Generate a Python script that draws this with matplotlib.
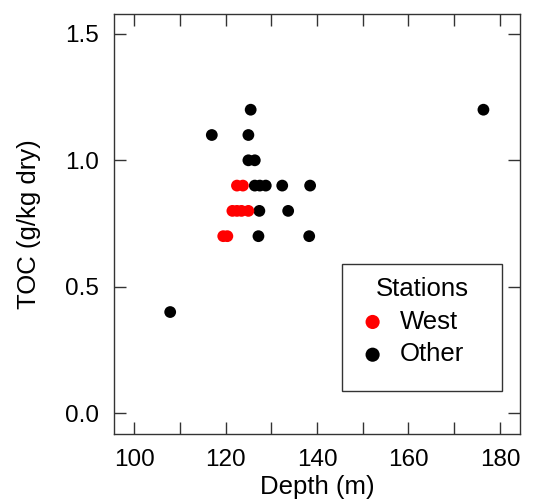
import matplotlib.pyplot as plt
from matplotlib.patches import Rectangle

plt.rcParams['font.family'] = ['Liberation Sans', 'DejaVu Sans']

# depth (m) and TOC (g/kg dry)
west_depth = [119.5, 120.4, 121.5, 122.5, 123.5, 125.0, 122.5, 123.8]
west_toc = [0.7, 0.7, 0.8, 0.8, 0.8, 0.8, 0.9, 0.9]

other_depth = [107.9, 117.0, 125.0, 125.5, 125.0, 126.4, 126.4, 127.5, 128.8,
               132.4, 138.5, 127.4, 133.7, 127.2, 138.3, 176.4]
other_toc = [0.4, 1.1, 1.1, 1.2, 1.0, 1.0, 0.9, 0.9, 0.9,
             0.9, 0.9, 0.8, 0.8, 0.7, 0.7, 1.2]

xticks = [100, 120, 140, 160, 180]
yticks = [0.0, 0.5, 1.0, 1.5]

fig = plt.figure(figsize=(5.4, 5.04), dpi=100)
ax = fig.add_axes([0.211, 0.139, 0.752, 0.834])

ax.scatter(other_depth, other_toc, s=72, color='black', edgecolors='none', label='Other', zorder=2)
ax.scatter(west_depth, west_toc, s=72, color='red', edgecolors='none', label='West', zorder=3)

ax.set_xlim(95.6, 184.4)
ax.set_ylim(-0.082, 1.58)
ax.set_xticks(xticks)
ax.set_xticks(range(110, 180, 20), minor=True)
ax.set_yticks(yticks)
ax.set_yticklabels(['%.1f' % v for v in yticks])

edge = '0.2'
for sp in ax.spines.values():
    sp.set_color(edge)
    sp.set_linewidth(1.0)
ax.tick_params(which='both', direction='in', length=8.6, width=1.0, color=edge,
               top=True, right=True, labelsize=17.5, pad=11)

ax.set_xlabel('Depth (m)', fontsize=18.5, labelpad=3)
ax.set_ylabel('TOC (g/kg dry)', fontsize=18.5, labelpad=17)

# legend box: square frame, title centred, entries left aligned
lx, ly, lw, lh = 0.562, 0.102, 0.393, 0.302
ax.add_patch(Rectangle((lx, ly), lw, lh, transform=ax.transAxes, facecolor='white',
                       edgecolor=edge, linewidth=1.0, zorder=4))
handles, labels = ax.get_legend_handles_labels()
leg = ax.legend(handles[::-1], labels[::-1], title='Stations', loc='upper left',
                bbox_to_anchor=(lx, ly, lw, lh), mode='expand', borderaxespad=0,
                fontsize=18.5, title_fontsize=18.5, frameon=False, markerscale=1.2,
                handlelength=1.37, handletextpad=0.38, labelspacing=0.34, borderpad=0.5)
leg.set_zorder(5)

fig.savefig('out.png', dpi=100)
